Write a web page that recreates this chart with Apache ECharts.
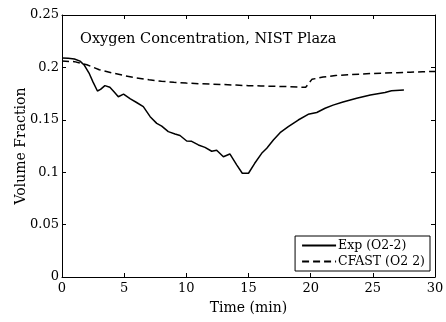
<!DOCTYPE html>
<html>
<head>
<meta charset="utf-8">
<script src="https://cdn.jsdelivr.net/npm/echarts@6/dist/echarts.min.js"></script>
<style>
html,body{margin:0;padding:0;background:#fff;}
#chart{width:446px;height:322px;}
</style>
</head>
<body>
<div id="chart"></div>
<script>
const titleText = 'Oxygen Concentration, NIST Plaza';
const xAxisName = 'Time (min)';
const yAxisName = 'Volume Fraction';
const seriesNames = ['Exp (O2-2)', 'CFAST (O2 2)'];

const expTime = [0, 0.5, 1.0, 1.45, 1.8, 2.2, 2.5, 2.85, 3.1, 3.45, 3.85, 4.2, 4.53, 4.95, 5.5, 6.0, 6.54, 7.09, 7.62, 8.02, 8.55, 9.09, 9.49, 10.03, 10.43, 10.97, 11.5, 12.04, 12.44, 12.98, 13.5, 14.05, 14.5, 15.0, 15.5, 16.06, 16.47, 17.0, 17.54, 18.2, 19.0, 19.8, 20.49, 21.16, 21.8, 22.6, 23.7, 24.8, 25.98, 26.5, 27.5];
const expValue = [0.209, 0.2088, 0.208, 0.206, 0.202, 0.194, 0.186, 0.1775, 0.179, 0.1826, 0.181, 0.1765, 0.172, 0.1745, 0.170, 0.1665, 0.1625, 0.153, 0.1466, 0.144, 0.1387, 0.1365, 0.135, 0.1298, 0.1295, 0.126, 0.1237, 0.120, 0.121, 0.1148, 0.1174, 0.107, 0.099, 0.099, 0.1085, 0.118, 0.1228, 0.1307, 0.1377, 0.1434, 0.1498, 0.1552, 0.157, 0.161, 0.164, 0.167, 0.1705, 0.1737, 0.176, 0.1778, 0.1784];

const cfastTime = [0, 1, 2, 3, 4, 5, 6, 7, 8, 9, 10, 11, 12, 13, 14, 15, 16, 17, 18, 19, 19.6, 20.1, 21, 22, 23, 24, 25, 26, 27, 28, 29, 30];
const cfastValue = [0.206, 0.2055, 0.2025, 0.1978, 0.1948, 0.1922, 0.1900, 0.1882, 0.1868, 0.1858, 0.1850, 0.1845, 0.1841, 0.1836, 0.1831, 0.1826, 0.1823, 0.1820, 0.1817, 0.1813, 0.1810, 0.1886, 0.1908, 0.1923, 0.1930, 0.1936, 0.1942, 0.1946, 0.1950, 0.1954, 0.1958, 0.1962];

const xTicks = {min: 0, max: 30, interval: 5};
const yTicks = {min: 0, max: 0.25, interval: 0.05};

const FONT = 'DejaVu Serif';
const zip = (a, b) => a.map((v, i) => [v, b[i]]);

const chart = echarts.init(document.getElementById('chart'), null, {renderer: 'canvas'});
const axisLineStyle = {color: '#000', width: 1};
chart.setOption({
  animation: false,
  backgroundColor: '#fff',
  textStyle: {fontFamily: FONT},
  grid: {left: 62, right: 11, top: 15, bottom: 45, containLabel: false, outerBoundsMode: 'none'},
  title: {
    text: titleText, left: 80, top: 32, padding: 0,
    textStyle: {fontFamily: FONT, fontSize: 14.5, fontWeight: 'normal', color: '#000'}
  },
  legend: {
    data: seriesNames,
    orient: 'vertical',
    right: 16, bottom: 51,
    itemWidth: 34, itemHeight: 12, itemGap: 3,
    padding: [3, 5, 3, 6],
    borderColor: '#000', borderWidth: 1, borderRadius: 0,
    backgroundColor: '#fff',
    itemStyle: {opacity: 0},
    textStyle: {fontFamily: FONT, fontSize: 12.5, color: '#000', padding: [0, 0, 0, -3]}
  },
  xAxis: [{
    type: 'value', min: xTicks.min, max: xTicks.max, interval: xTicks.interval,
    name: xAxisName, nameLocation: 'middle', nameGap: 24, nameMoveOverlap: false,
    nameTextStyle: {fontFamily: FONT, fontSize: 14, color: '#000'},
    axisLine: {show: true, onZero: false, lineStyle: axisLineStyle},
    axisTick: {show: true, inside: true, length: 4, lineStyle: axisLineStyle},
    axisLabel: {fontFamily: FONT, fontSize: 13, color: '#000', margin: 5},
    splitLine: {show: false}
  }, {
    type: 'value', position: 'top', min: xTicks.min, max: xTicks.max, interval: xTicks.interval,
    axisLine: {show: true, onZero: false, lineStyle: axisLineStyle},
    axisTick: {show: true, inside: true, length: 4, lineStyle: axisLineStyle},
    axisLabel: {show: false}, splitLine: {show: false}
  }],
  yAxis: [{
    type: 'value', min: yTicks.min, max: yTicks.max, interval: yTicks.interval,
    name: yAxisName, nameLocation: 'middle', nameGap: 34, nameMoveOverlap: false,
    nameTextStyle: {fontFamily: FONT, fontSize: 14, color: '#000'},
    axisLine: {show: true, onZero: false, lineStyle: axisLineStyle},
    axisTick: {show: true, inside: true, length: 4, lineStyle: axisLineStyle},
    axisLabel: {fontFamily: FONT, fontSize: 13, color: '#000', margin: 3,
      formatter: v => String(+v.toFixed(2))},
    splitLine: {show: false}
  }, {
    type: 'value', position: 'right', min: yTicks.min, max: yTicks.max, interval: yTicks.interval,
    axisLine: {show: true, onZero: false, lineStyle: axisLineStyle},
    axisTick: {show: true, inside: true, length: 4, lineStyle: axisLineStyle},
    axisLabel: {show: false}, splitLine: {show: false}
  }],
  series: [{
    name: seriesNames[0], type: 'line', data: zip(expTime, expValue),
    symbol: 'none', smooth: false,
    lineStyle: {color: '#000', width: 1.5, type: 'solid'},
    itemStyle: {color: '#000'}
  }, {
    name: seriesNames[1], type: 'line', data: zip(cfastTime, cfastValue),
    symbol: 'none', smooth: false,
    lineStyle: {color: '#000', width: 1.5, type: [7, 4]},
    itemStyle: {color: '#000'}
  }]
});
</script>
</body>
</html>
